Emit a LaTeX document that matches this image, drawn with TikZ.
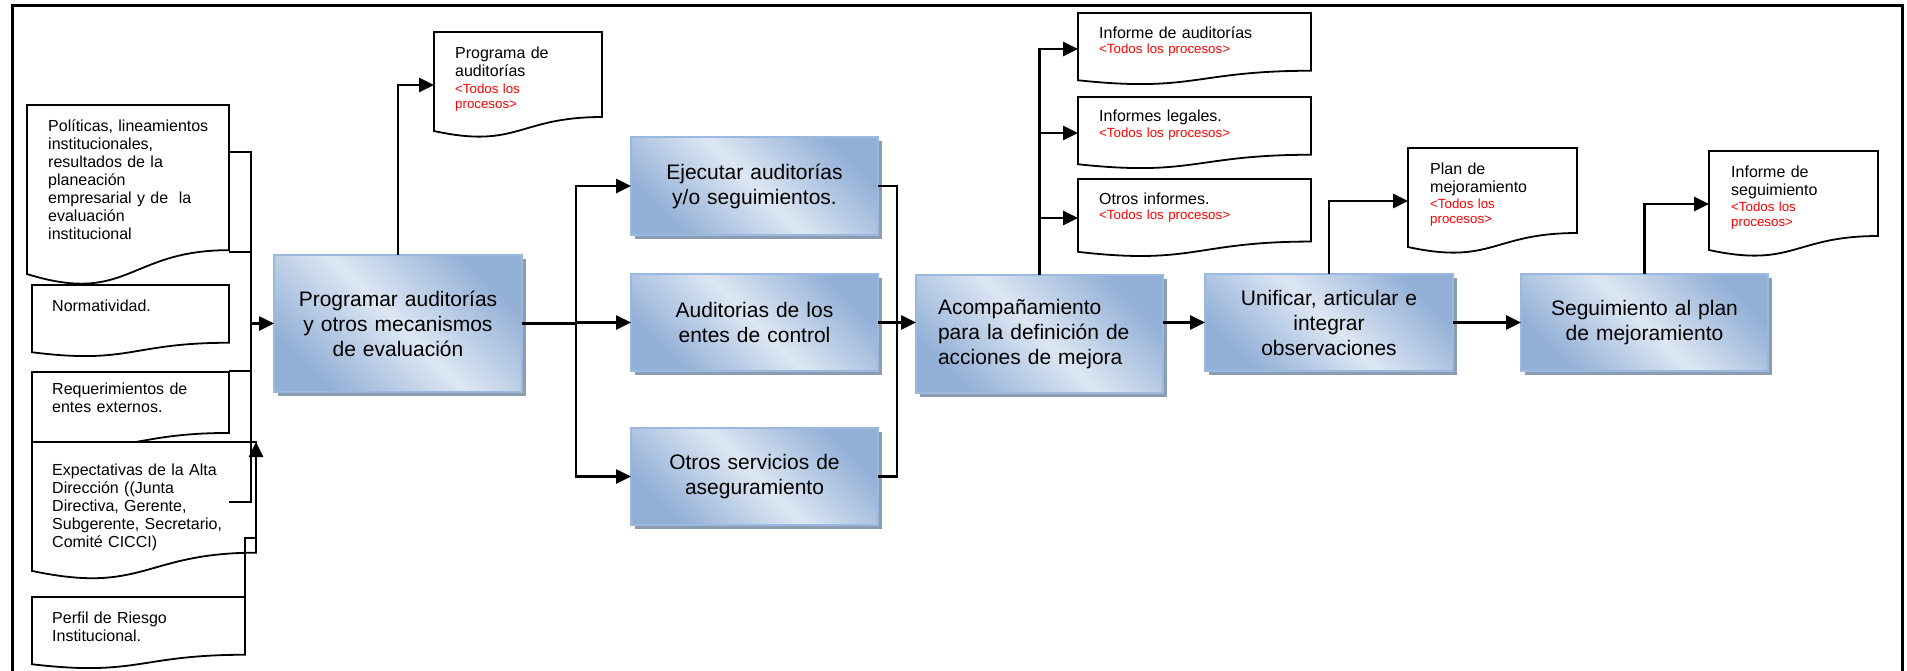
\documentclass[tikz,border=0pt]{standalone}
\usepackage{fontspec}
\setmainfont{Liberation Sans}
\usetikzlibrary{arrows.meta,shadows,calc}
\definecolor{boxlight}{RGB}{221,231,243}
\definecolor{boxdark}{RGB}{146,175,214}
\definecolor{boxborder}{RGB}{155,185,222}
\definecolor{shadowc}{RGB}{140,156,178}
\newcommand\docoutline[1]{%
  \draw[docline] let \p1=(#1.north west), \p2=(#1.south east) in
  (\x1,\y1) -- (\x2,\y1) -- (\x2,{\y1+0.802*(\y2-\y1)})
  .. controls ({0.5*\x1+0.5*\x2},{\y1+0.802*(\y2-\y1)}) and ({0.5*\x1+0.5*\x2},{\y1+1.107*(\y2-\y1)}) ..
  (\x1,{\y1+0.934*(\y2-\y1)}) -- cycle;}
\begin{document}
\begin{tikzpicture}[x=1pt,y=-1pt,
  frame/.style={line width=3pt, line cap=rect},
  conn/.style={line width=2.6pt},
  arrow/.style={conn, -{Triangle[length=15pt,width=14pt]}},
  docbox/.style={rectangle, anchor=north west, inner sep=0pt, outer sep=0pt},
  docline/.style={draw=black, line width=1.8pt, fill=white},
  doctext/.style={anchor=base west, inner sep=0pt, align=left, text width=#1, font=\fontsize{16}{18}\selectfont},
  redtext/.style={anchor=base west, inner sep=0pt, align=left, text width=#1, text=red, font=\fontsize{13.3}{15}\selectfont},
  bluebox/.style={rectangle, draw=boxborder, line width=1.6pt,
    top color=boxdark, bottom color=boxdark, middle color=boxlight, shading angle=-45,
    drop shadow={shadow xshift=4pt, shadow yshift=-4pt, fill=shadowc, opacity=1, draw=none},
    inner xsep=10pt, inner ysep=0pt, outer sep=0pt, align=center,
    font=\fontsize{21}{25}\selectfont}
]
\useasboundingbox (0,0) rectangle (1907,670);
% frame
\draw[frame] (12,672) -- (12,5) -- (1902,5) -- (1902,672);

% document shapes
\node[docbox, minimum width=202, minimum height=181] (l1) at (27,105) {};
\node[docbox, minimum width=197, minimum height=72] (l2) at (32,285) {};
\node[docbox, minimum width=197, minimum height=76] (l3) at (32,372) {};
\node[docbox, minimum width=224, minimum height=138] (l4) at (32,442) {};
\node[docbox, minimum width=213, minimum height=72] (l5) at (32,597) {};
\node[docbox, minimum width=168, minimum height=106] (pdoc) at (434,32) {};
\node[docbox, minimum width=233, minimum height=72] (inf1) at (1078,13) {};
\node[docbox, minimum width=233, minimum height=72] (inf2) at (1078,97) {};
\node[docbox, minimum width=233, minimum height=78] (inf3) at (1078,179) {};
\node[docbox, minimum width=169, minimum height=106] (plan) at (1408,148) {};
\node[docbox, minimum width=169, minimum height=106] (infseg) at (1709,151) {};
\foreach \d in {l1,l2,l3,l4,l5,pdoc,inf1,inf2,inf3,plan,infseg} {\docoutline{\d}}

% process boxes
\node[bluebox, minimum width=248, minimum height=137, text width=228] (prog) at (398,323.5)
  {Programar auditorías\\y otros mecanismos\\de evaluación};
\node[bluebox, minimum width=247, minimum height=98, text width=227] (ejec) at (754.5,186)
  {Ejecutar auditorías\\y/o seguimientos.};
\node[bluebox, minimum width=247, minimum height=97, text width=227] (aud) at (754.5,322.5)
  {Auditorias de los\\entes de control};
\node[bluebox, minimum width=247, minimum height=97, text width=227] (otros) at (754.5,476.5)
  {Otros servicios de\\aseguramiento};
\node[bluebox, minimum width=247, minimum height=118, inner xsep=22pt, text width=203, align=left] (acomp) at (1039.5,334)
  {Acompañamiento\\para la definición de\\acciones de mejora};
\node[bluebox, minimum width=248, minimum height=97, text width=228] (unif) at (1329,322.5)
  {Unificar, articular e\\integrar\\observaciones};
\node[bluebox, minimum width=247, minimum height=97, text width=227] (seg) at (1644.5,322.5)
  {Seguimiento al plan\\de mejoramiento};

% left inputs
\coordinate (l1o) at (229,152);
\coordinate (l1b) at (229,252);
\coordinate (l3o) at (229,371);
\coordinate (l4o) at (229,502);
\coordinate (bL) at (251,152);
\coordinate (l5o) at (245,627);
\coordinate (l5k) at (245,538);
\draw[conn] (l1o) -- (bL) |- (l4o);
\draw[conn] (l1b) -- (l1b -| bL);
\draw[conn] (l3o) -- (l3o -| bL);
\draw[arrow] (bL |- prog.west) -- (prog.west);
\draw[arrow] (l5o) -- (l5k) -| (l4.north east);

% main flow
\coordinate (b1) at (576,323);
\coordinate (b2) at (897,323);
\draw[arrow] (prog.north) |- (pdoc.west);
\draw[conn] (prog.east) -- (prog.east -| b1);
\draw[arrow] (prog.east -| b1) |- (ejec.west);
\draw[arrow] (prog.east -| b1) |- (aud.west);
\draw[arrow] (prog.east -| b1) |- (otros.west);
\draw[conn] (ejec.east) -| (b2 |- otros.east) -- (otros.east);
\draw[arrow] (aud.east) -- (aud.east -| acomp.west);
\draw[arrow] (acomp.north) |- (inf1.west);
\draw[arrow] (acomp.north) |- (inf2.west);
\draw[arrow] (acomp.north) |- (inf3.west);
\draw[arrow] (acomp.east |- unif.west) -- (unif.west);
\draw[arrow] (unif.north) |- (plan.west);
\draw[arrow] (unif.east) -- (seg.west);
\draw[arrow] (seg.north) |- (infseg.west);

% document texts
\node[doctext=178] (t1) at (48,131) {Políticas, lineamientos\\institucionales,\\resultados de la\\planeación\\empresarial y de~ la\\evaluación\\institucional};
\node[doctext=175] (t2) at (52,311) {Normatividad.};
\node[doctext=175] (t3) at (52,394) {Requerimientos de\\entes externos.};
\node[doctext=200] (t4) at (52,475) {Expectativas de la Alta\\Dirección ((Junta\\Directiva, Gerente,\\Subgerente, Secretario,\\Comité CICCI)};
\node[doctext=190] (t5) at (52,623) {Perfil de Riesgo\\Institucional.};

\node[doctext=145] (tp) at (455,58) {Programa de\\auditorías};
\node[redtext=145] (rp) at (455,93) {<Todos los\\procesos>};

\node[doctext=205] (ti1) at (1099,38) {Informe de auditorías};
\node[redtext=205] (ri1) at (1099,53) {<Todos los procesos>};
\node[doctext=205] (ti2) at (1099,121) {Informes legales.};
\node[redtext=205] (ri2) at (1099,137) {<Todos los procesos>};
\node[doctext=205] (ti3) at (1099,204) {Otros informes.};
\node[redtext=205] (ri3) at (1099,219) {<Todos los procesos>};

\node[doctext=145] (tpl) at (1430,174) {Plan de\\mejoramiento};
\node[redtext=145] (rpl) at (1430,208) {<Todos los\\procesos>};
\node[doctext=145] (tis) at (1731,177) {Informe de\\seguimiento};
\node[redtext=145] (ris) at (1731,211) {<Todos los\\procesos>};
\end{tikzpicture}
\end{document}
